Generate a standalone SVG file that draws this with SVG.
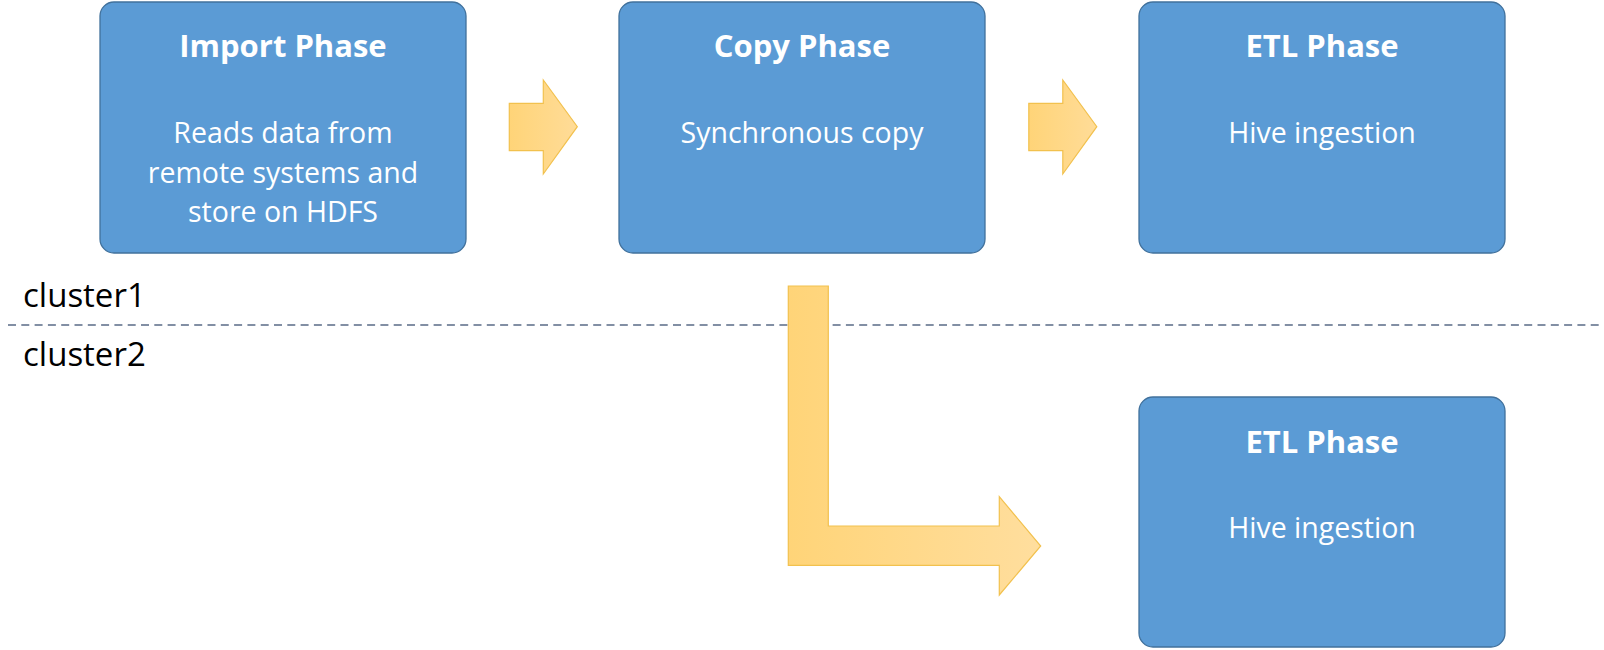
<svg xmlns="http://www.w3.org/2000/svg" width="1604" height="650" viewBox="0 0 1604 650">
<defs>
<linearGradient id="gArrow" x1="0" y1="0" x2="1" y2="0">
<stop offset="0" stop-color="#FFD478"/>
<stop offset="1" stop-color="#FFDC98"/>
</linearGradient>
<linearGradient id="gL" gradientUnits="userSpaceOnUse" x1="788" y1="0" x2="1041" y2="0">
<stop offset="0" stop-color="#FFD478"/>
<stop offset="1" stop-color="#FFDE9E"/>
</linearGradient>
</defs>
<style>
.box{fill:#5B9BD5;stroke:#41719C;stroke-width:1.3}
.title{font-family:"Open Sans","Liberation Sans",sans-serif;font-weight:bold;font-size:31px;fill:#FFFFFF;text-anchor:middle}
.body{font-family:"Open Sans","Liberation Sans",sans-serif;font-size:28.5px;fill:#FFFFFF;text-anchor:middle}
.lbl{font-family:"Open Sans","Liberation Sans",sans-serif;font-size:33px;fill:#000000}
.arrow{stroke:#F2C14E;stroke-width:1.2}
.sep{stroke:#5A6B87;stroke-width:1.6;stroke-dasharray:8 5.3;fill:none}
</style>
<rect width="1604" height="650" fill="#FFFFFF"/>
<g id="separator">
<line class="sep" x1="8" y1="325" x2="1604" y2="325"/>
<text class="lbl" x="23" y="307">cluster1</text>
<text class="lbl" x="23" y="366">cluster2</text>
</g>
<g id="import-phase">
<rect class="box" x="100" y="2" width="366" height="251" rx="14"/>
<text class="title" x="283" y="57">Import Phase</text>
<text class="body" x="283" y="143">Reads data from</text>
<text class="body" x="283" y="183">remote systems and</text>
<text class="body" x="283" y="222">store on HDFS</text>
</g>
<g id="copy-phase">
<rect class="box" x="619" y="2" width="366" height="251" rx="14"/>
<text class="title" x="802" y="57">Copy Phase</text>
<text class="body" x="802" y="143">Synchronous copy</text>
</g>
<g id="etl-phase-1">
<rect class="box" x="1139" y="2" width="366" height="251" rx="14"/>
<text class="title" x="1322" y="57">ETL Phase</text>
<text class="body" x="1322" y="143">Hive ingestion</text>
</g>
<g id="etl-phase-2">
<rect class="box" x="1139" y="397" width="366" height="250" rx="14"/>
<text class="title" x="1322" y="453">ETL Phase</text>
<text class="body" x="1322" y="538">Hive ingestion</text>
</g>
<g id="connectors">
<path class="arrow" fill="url(#gArrow)" d="M509.3,103.3 H543.3 V80 L577.3,126.7 L543.3,174 V150.7 H509.3 Z"/>
<path class="arrow" fill="url(#gArrow)" d="M1028.8,103.3 H1062.8 V80 L1096.8,126.7 L1062.8,174 V150.7 H1028.8 Z"/>
<path class="arrow" fill="url(#gL)" d="M788.3,286 H828.3 V526 H999.3 V496.7 L1040.7,546 L999.3,595 V565.3 H788.3 Z"/>
</g>
</svg>
